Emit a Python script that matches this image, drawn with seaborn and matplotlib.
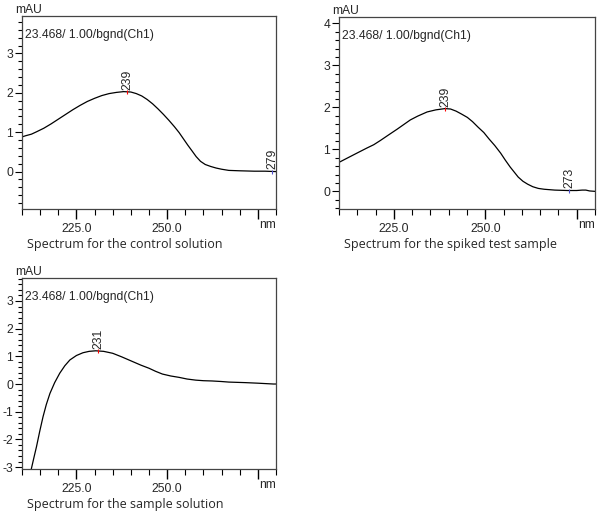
import matplotlib
matplotlib.use("Agg")
import matplotlib.pyplot as plt
from matplotlib.ticker import MultipleLocator, FixedLocator
import seaborn as sns
import pandas as pd

# spectra (nm, mAU)
control_nm = [210, 211, 212.6, 214, 216, 218, 220, 222, 224, 226, 228, 230, 232, 234, 236, 238, 240,
              241.5, 243, 244.5, 246, 247.5, 249, 250.5, 252, 253.3, 254.5, 255.7, 256.9, 258, 259.2,
              260.5, 262, 263.5, 265, 267, 270, 274, 277, 280]
control_au = [0.88, 0.91, 0.95, 1.01, 1.10, 1.21, 1.33, 1.45, 1.57, 1.68, 1.78, 1.86, 1.93, 1.98, 2.01, 2.03, 2.02,
              1.98, 1.92, 1.83, 1.72, 1.59, 1.45, 1.30, 1.14, 0.99, 0.83, 0.67, 0.52, 0.38, 0.26,
              0.18, 0.13, 0.09, 0.06, 0.03, 0.02, 0.01, 0.01, 0.0]

spiked_nm = [210, 212, 214.9, 217.6, 219.5, 221.3, 223.5, 225.9, 227.7, 229.5, 231.5, 234.1, 236.5, 239, 240.5,
             242, 243.5, 245.1, 246.5, 248, 249.6, 251, 252.6, 254.2, 255.5, 256.8, 257.9, 259, 260.3,
             261.6, 263, 264.5, 266.1, 269, 272.5, 275, 276.5, 277.5, 278.5, 280]
spiked_au = [0.69, 0.78, 0.91, 1.03, 1.11, 1.21, 1.34, 1.48, 1.59, 1.70, 1.79, 1.89, 1.94, 1.97, 1.96,
             1.91, 1.84, 1.76, 1.66, 1.53, 1.40, 1.25, 1.09, 0.91, 0.74, 0.58, 0.46, 0.34, 0.24,
             0.17, 0.11, 0.07, 0.05, 0.03, 0.02, 0.02, 0.03, 0.03, 0.01, 0.0]

sample_nm = [210, 211.5, 212.6, 213.3, 214, 214.9, 215.8, 216.7, 217.7, 219, 220.4, 221.8, 223.2, 225, 226.8,
             228.5, 230.3, 232.5, 235, 237.5, 240.5, 242.8, 245, 246.8, 248.7, 251, 253.3, 255.5, 257.9,
             260, 262.4, 265, 267, 271.6, 275, 279.3, 280]
sample_au = [-4.5, -3.7, -3.05, -2.65, -2.26, -1.7, -1.18, -0.74, -0.34, 0.05, 0.39, 0.66, 0.87, 1.03, 1.13,
             1.18, 1.2, 1.18, 1.11, 0.98, 0.81, 0.68, 0.57, 0.46, 0.36, 0.29, 0.24, 0.18, 0.14,
             0.12, 0.11, 0.09, 0.07, 0.05, 0.03, 0.0, 0.0]

# peak labels: (nm, mAU, text, colour)
control_peaks = [(239, 2.03, "239", "red"), (279, 0.0, "279", "#5050d0")]
spiked_peaks = [(239, 1.97, "239", "red"), (273, 0.02, "273", "#5050d0")]
sample_peaks = [(231, 1.2, "231", "red")]

header = "23.468/ 1.00/bgnd(Ch1)"
captions = ["Spectrum for the control solution",
            "Spectrum for the spiked test sample",
            "Spectrum for the sample solution"]

sns.set_style("white")
plt.rcParams['font.family'] = ['Liberation Sans', 'DejaVu Sans']
plt.rcParams['axes.unicode_minus'] = False

fig = plt.figure(figsize=(5.98, 5.11), dpi=100)
W, H = 598, 511
fs = 8.7


def make_ax(left, right, top, bottom):
    return fig.add_axes([left / W, 1 - bottom / H, (right - left) / W, (bottom - top) / H])


panels = [
    (make_ax(22, 276, 16, 209), control_nm, control_au, control_peaks, (-0.95, 3.95), captions[0]),
    (make_ax(339, 595, 17, 209), spiked_nm, spiked_au, spiked_peaks, (-0.42, 4.15), captions[1]),
    (make_ax(22, 276, 278, 469), sample_nm, sample_au, sample_peaks, (-3.07, 3.83), captions[2]),
]

for ax, nm, au, peaks, ylim, cap in panels:
    df = pd.DataFrame({'nm': nm, 'mAU': au})
    sns.lineplot(data=df, x='nm', y='mAU', ax=ax, color='black', linewidth=0.9)
    ax.set_xlim(210, 280)
    ax.set_ylim(*ylim)
    ax.set_xlabel('')
    ax.set_ylabel('')
    for s in ax.spines.values():
        s.set_color('#444444')
        s.set_linewidth(0.9)
    ax.xaxis.set_major_locator(FixedLocator([225, 250, 275]))
    ax.xaxis.set_minor_locator(MultipleLocator(5))
    ax.set_xticklabels(['225.0', '250.0', ''])
    ax.yaxis.set_major_locator(MultipleLocator(1))
    ax.yaxis.set_minor_locator(MultipleLocator(0.2))
    ax.tick_params(axis='both', which='both', direction='out', color='black',
                   labelsize=fs, pad=1.5, bottom=True, left=True)
    ax.tick_params(axis='x', which='major', length=7, width=1.0, pad=3)
    ax.tick_params(axis='x', which='minor', length=4, width=0.8)
    ax.tick_params(axis='y', which='major', length=5, width=0.8)
    ax.tick_params(axis='y', which='minor', length=3, width=0.8)
    ax.text(1.0, -0.05, 'nm', transform=ax.transAxes, ha='right', va='top', fontsize=fs)
    ax.text(-0.025, 1.0, 'mAU', transform=ax.transAxes, ha='left', va='bottom', fontsize=fs)
    ax.text(0.01, 0.9, header, transform=ax.transAxes, ha='left', va='center', fontsize=fs)
    for px, py, lab, col in peaks:
        ax.plot([px], [py], marker='|', color=col, markersize=3, markeredgewidth=0.8)
        ax.annotate(lab, (px, py), xytext=(0, 1.5), textcoords='offset points',
                    rotation=90, ha='center', va='bottom', fontsize=fs)
    ax.text(0.02, -0.15, cap, transform=ax.transAxes, ha='left', va='top',
            fontsize=9.0, family=['Open Sans', 'DejaVu Sans'])

fig.savefig('out.png', dpi=100)
